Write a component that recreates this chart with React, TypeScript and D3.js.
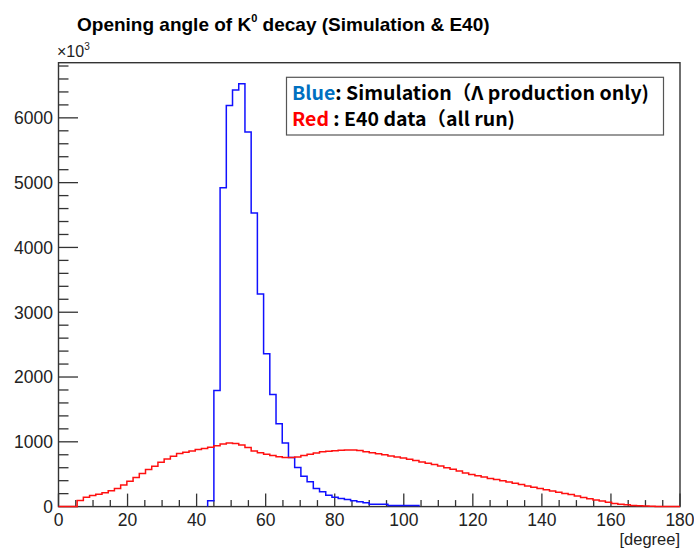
import React from 'react';
import * as d3 from 'd3';

// Histogram definition: 100 bins over [0, 180] degrees
const BIN_WIDTH = 1.8;
const X_DOMAIN = [0, 180];
const xTickValues = [0, 20, 40, 60, 80, 100, 120, 140, 160, 180];
const yTickValues = [0, 1000, 2000, 3000, 4000, 5000, 6000];

// Counts (units of 10^3), one per bin
const simulationCounts = [
  0, 0, 0, 0, 0, 0, 0, 0, 0, 0,
  0, 0, 0, 0, 0, 0, 0, 0, 0, 0,
  0, 0, 0, 0, 90, 1790, 4920, 6190, 6430, 6525,
  5780, 4530, 3280, 2360, 1730, 1280, 980, 756, 603, 469,
  382, 280, 228, 177, 145, 126, 110, 90, 74, 59,
  38, 38, 38, 18, 18, 18, 18, 18, 0, 0,
  0, 0, 0, 0, 0, 0, 0, 0, 0, 0,
  0, 0, 0, 0, 0, 0, 0, 0, 0, 0,
  0, 0, 0, 0, 0, 0, 0, 0, 0, 0,
  0, 0, 0, 0, 0, 0, 0, 0, 0, 0,
];

const e40Counts = [
  0, 0, 0, 95, 145, 172, 192, 212, 243, 280,
  335, 392, 449, 510, 572, 623, 685, 735, 777, 818,
  838, 858, 880, 895, 915, 940, 965, 982, 975, 950,
  912, 860, 830, 808, 790, 770, 758, 756, 766, 790,
  808, 828, 848, 856, 862, 870, 875, 872, 865, 845,
  830, 815, 800, 780, 765, 750, 730, 710, 690, 670,
  650, 625, 600, 575, 550, 520, 495, 475, 455, 435,
  420, 400, 380, 360, 340, 318, 300, 280, 262, 242,
  222, 203, 187, 162, 141, 120, 100, 85, 69, 49,
  38, 28, 18, 13, 8, 4, 0, 0, 0, 0,
];

const titleMain = 'Opening angle of K';
const titleSup = '0';
const titleRest = ' decay (Simulation & E40)';
const xAxisTitle = '[degree]';
const legendBlueKey = 'Blue';
const legendBlueText = ': Simulation（Λ production only)';
const legendRedKey = 'Red';
const legendRedText = ' : E40 data（all run)';

const W = 694;
const H = 549;
const plot = { left: 58.5, right: 680, top: 62.7, bottom: 506.6 };
const AXIS_FONT = "'Liberation Sans', Arial, Helvetica, sans-serif";

function histPath(values: number[], x: d3.ScaleLinear<number, number>, y: d3.ScaleLinear<number, number>, trim: boolean) {
  let first = 0;
  let last = values.length - 1;
  if (trim) {
    first = values.findIndex((v) => v > 0);
    for (let i = values.length - 1; i >= 0; i--) if (values[i] > 0) { last = i; break; }
  }
  const pts: [number, number][] = [];
  pts.push([first * BIN_WIDTH, 0]);
  for (let i = first; i <= last; i++) pts.push([i * BIN_WIDTH, values[i]]);
  pts.push([(last + 1) * BIN_WIDTH, values[last]]);
  pts.push([(last + 1) * BIN_WIDTH, 0]);
  const line = d3
    .line<[number, number]>()
    .x((d) => x(d[0]))
    .y((d) => y(d[1]))
    .curve(d3.curveStepAfter);
  return line(pts) || '';
}

export default function App() {
  const yMax = 1.05 * (d3.max(simulationCounts) as number);
  const x = d3.scaleLinear().domain(X_DOMAIN).range([plot.left, plot.right]);
  const y = d3.scaleLinear().domain([0, yMax]).range([plot.bottom, plot.top]);

  const xMinor = d3.range(X_DOMAIN[0], X_DOMAIN[1] + 0.001, 5).filter((v) => v % 20 !== 0);
  const yMinor = d3.range(0, yMax, 200).filter((v) => v % 1000 !== 0);

  const axisColor = '#333';

  return (
    <svg width={W} height={H} style={{ position: 'absolute', left: 0, top: 0, background: '#fff' }}>
      <rect x={0} y={0} width={W} height={H} fill="#fff" />

      {/* Title */}
      <text x={77} y={31} fontFamily={AXIS_FONT} fontWeight="bold" fontSize={19} fill="#000">
        {titleMain}
        <tspan fontSize={11} dy={-9}>{titleSup}</tspan>
        <tspan dy={9}>{titleRest}</tspan>
      </text>

      {/* x10^3 */}
      <text x={57} y={57} fontFamily={AXIS_FONT} fontSize={16} fill="#222">
        ×10<tspan fontSize={10} dy={-7}>3</tspan>
      </text>

      {/* Frame */}
      <rect
        x={plot.left}
        y={plot.top}
        width={plot.right - plot.left}
        height={plot.bottom - plot.top}
        fill="none"
        stroke={axisColor}
        strokeWidth={1.4}
      />

      {/* Y ticks */}
      {yTickValues.map((v) => (
        <g key={'yt' + v}>
          <line x1={plot.left} x2={plot.left + 19.5} y1={y(v)} y2={y(v)} stroke={axisColor} strokeWidth={1.3} />
          <text x={53} y={y(v) + 6.3} textAnchor="end" fontFamily={AXIS_FONT} fontSize={17.5} fill="#222">
            {v}
          </text>
        </g>
      ))}
      {yMinor.map((v) => (
        <line key={'ym' + v} x1={plot.left} x2={plot.left + 10} y1={y(v)} y2={y(v)} stroke={axisColor} strokeWidth={1.3} />
      ))}

      {/* X ticks */}
      {xTickValues.map((v) => (
        <g key={'xt' + v}>
          <line x1={x(v)} x2={x(v)} y1={plot.bottom} y2={plot.bottom - 13} stroke={axisColor} strokeWidth={1.3} />
          <text x={x(v)} y={526} textAnchor="middle" fontFamily={AXIS_FONT} fontSize={17.5} fill="#222">
            {v}
          </text>
        </g>
      ))}
      {xMinor.map((v) => (
        <line key={'xm' + v} x1={x(v)} x2={x(v)} y1={plot.bottom} y2={plot.bottom - 6.5} stroke={axisColor} strokeWidth={1.3} />
      ))}

      <text
        x={680}
        y={545}
        textAnchor="end"
        fontFamily={AXIS_FONT}
        fontSize={16.5}
        fill="#222"
      >
        {xAxisTitle}
      </text>

      {/* Histograms */}
      <path d={histPath(simulationCounts, x, y, true)} fill="none" stroke="#1010ff" strokeWidth={1.5} />
      <path d={histPath(e40Counts, x, y, false)} fill="none" stroke="#ff1010" strokeWidth={1.5} />

      {/* Legend */}
      <rect x={286.5} y={77.3} width={377} height={57.7} fill="#fff" stroke="#555" strokeWidth={1.2} />
      <text
        x={292}
        y={100}
        fontFamily="'Noto Sans CJK JP', 'Noto Sans', sans-serif"
        fontWeight="bold"
        fontSize={19}
        fill="#000"
        textLength={357}
        lengthAdjust="spacingAndGlyphs"
      >
        <tspan fill="#0070C0">{legendBlueKey}</tspan>
        {legendBlueText}
      </text>
      <text
        x={292}
        y={125.5}
        fontFamily="'Noto Sans CJK JP', 'Noto Sans', sans-serif"
        fontWeight="bold"
        fontSize={19}
        fill="#000"
        textLength={223}
        lengthAdjust="spacingAndGlyphs"
      >
        <tspan fill="#FF0000">{legendRedKey}</tspan>
        {legendRedText}
      </text>
    </svg>
  );
}
